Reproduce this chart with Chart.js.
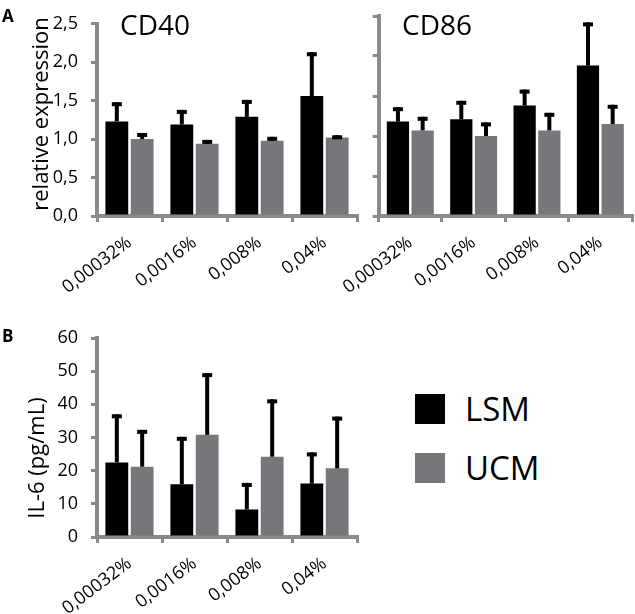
<!DOCTYPE html>
<html>
<head>
<meta charset="utf-8">
<script src="https://cdn.jsdelivr.net/npm/chart.js@4/dist/chart.umd.min.js"></script>
<style>
    body { margin: 0; background: #fff; width: 635px; height: 614px; position: relative; overflow: hidden; font-family: 'Open Sans', sans-serif; color: #000; }
    canvas { position: absolute; }
    .txt { position: absolute; line-height: 1; white-space: nowrap; }
    .panel { font-weight: bold; font-size: 17px; }
    .titulo { font-size: 28px; }
    .ejeY { font-size: 22px; transform: translate(-50%, -50%) rotate(-90deg); }
    .leyenda { position: absolute; left: 415px; display: flex; align-items: center; font-size: 33px; line-height: 1; }
    .caja { width: 30px; height: 30px; margin-right: 20px; }
</style>
</head>
<body>
<canvas id="chartCD40" width="360" height="300" style="left:0;top:0"></canvas>
<canvas id="chartCD86" width="305" height="300" style="left:330px;top:0"></canvas>
<canvas id="chartIL6" width="360" height="314" style="left:0;top:300px"></canvas>

<div class="txt panel" style="left:2px;top:7px">A</div>
<div class="txt panel" style="left:2px;top:327px">B</div>
<div class="txt titulo" style="left:120px;top:10px">CD40</div>
<div class="txt titulo" style="left:402px;top:10px">CD86</div>
<div class="txt ejeY" style="left:39px;top:114px">relative expression</div>
<div class="txt ejeY" style="left:35px;top:458px">IL-6 (pg/mL)</div>

<div class="leyenda" style="top:392px"><div class="caja" style="background:#000"></div>LSM</div>
<div class="leyenda" style="top:451px"><div class="caja" style="background:#76777b"></div>UCM</div>

<script>
const categorias = ['0,00032%', '0,0016%', '0,008%', '0,04%'];

const cd40LSM = [1.23, 1.19, 1.29, 1.56];
const cd40LSMsd = [0.25, 0.19, 0.22, 0.57];
const cd40UCM = [1.00, 0.94, 0.98, 1.02];
const cd40UCMsd = [0.08, 0.05, 0.05, 0.03];

const cd86LSM = [1.18, 1.21, 1.38, 1.88];
const cd86LSMsd = [0.18, 0.23, 0.20, 0.54];
const cd86UCM = [1.07, 1.00, 1.07, 1.15];
const cd86UCMsd = [0.17, 0.17, 0.22, 0.24];

const il6LSM = [22.5, 15.9, 8.3, 16.1];
const il6LSMsd = [14.5, 14.3, 8.0, 9.4];
const il6UCM = [21.2, 30.8, 24.2, 20.7];
const il6UCMsd = [11.1, 18.6, 17.3, 15.6];

const NEGRO = '#000000';
const GRIS = '#76777b';
const GRIS_EJE = '#8a8a8a';

// barras de error solo hacia arriba, con tapa gruesa
const barrasError = {
    id: 'barrasError',
    afterDatasetsDraw(chart) {
        const ctx = chart.ctx;
        const y = chart.scales.y;
        chart.data.datasets.forEach((ds, i) => {
            const meta = chart.getDatasetMeta(i);
            meta.data.forEach((bar, j) => {
                const arriba = y.getPixelForValue(ds.data[j] + ds.sd[j]);
                ctx.save();
                ctx.fillStyle = NEGRO;
                ctx.fillRect(bar.x - 2, arriba, 4, bar.y - arriba);
                ctx.fillRect(bar.x - 5, arriba, 10, 4);
                ctx.restore();
            });
        });
    }
};

function crearGrafico(id, datosLSM, sdLSM, datosUCM, sdUCM, opts) {
    const ctx = document.getElementById(id).getContext('2d');
    return new Chart(ctx, {
        type: 'bar',
        data: {
            labels: categorias,
            datasets: [
                { label: 'LSM', data: datosLSM, sd: sdLSM, backgroundColor: NEGRO },
                { label: 'UCM', data: datosUCM, sd: sdUCM, backgroundColor: GRIS }
            ]
        },
        options: {
            responsive: false,
            animation: false,
            layout: { padding: { top: opts.arriba, right: 3, left: 0, bottom: 0 } },
            datasets: { bar: { categoryPercentage: 0.78, barPercentage: 0.9 } },
            plugins: { legend: { display: false }, tooltip: { enabled: false } },
            scales: {
                x: {
                    grid: { drawOnChartArea: false, drawTicks: true, tickLength: 6, color: GRIS_EJE, lineWidth: 3, offset: true },
                    border: { color: GRIS_EJE, width: 4 },
                    ticks: {
                        color: '#000',
                        font: { family: 'Open Sans', size: 18 },
                        minRotation: 37,
                        maxRotation: 37,
                        padding: 10
                    },
                    afterFit(scale) { scale.height = opts.altoX; }
                },
                y: {
                    min: 0,
                    max: opts.max,
                    grid: { drawOnChartArea: false, drawTicks: true, tickLength: 6, color: GRIS_EJE, lineWidth: 3 },
                    border: { color: GRIS_EJE, width: 4 },
                    ticks: {
                        display: opts.etiquetasY,
                        stepSize: opts.paso,
                        color: '#000',
                        padding: 13,
                        font: { family: 'Open Sans', size: 18 },
                        callback: opts.formato
                    },
                    afterFit(scale) { scale.width = opts.anchoY; }
                }
            }
        },
        plugins: [barrasError]
    });
}

const formatoComa = v => v.toFixed(1).replace('.', ',');

crearGrafico('chartCD40', cd40LSM, cd40LSMsd, cd40UCM, cd40UCMsd,
    { arriba: 16, altoX: 84, anchoY: 97, max: 2.5, paso: 0.5, etiquetasY: true, formato: formatoComa });
crearGrafico('chartCD86', cd86LSM, cd86LSMsd, cd86UCM, cd86UCMsd,
    { arriba: 16, altoX: 84, anchoY: 43, max: 2.5, paso: 0.5, etiquetasY: false, formato: formatoComa });
crearGrafico('chartIL6', il6LSM, il6LSMsd, il6UCM, il6UCMsd,
    { arriba: 38, altoX: 77, anchoY: 97, max: 60, paso: 10, etiquetasY: true, formato: v => v });
</script>
</body>
</html>
